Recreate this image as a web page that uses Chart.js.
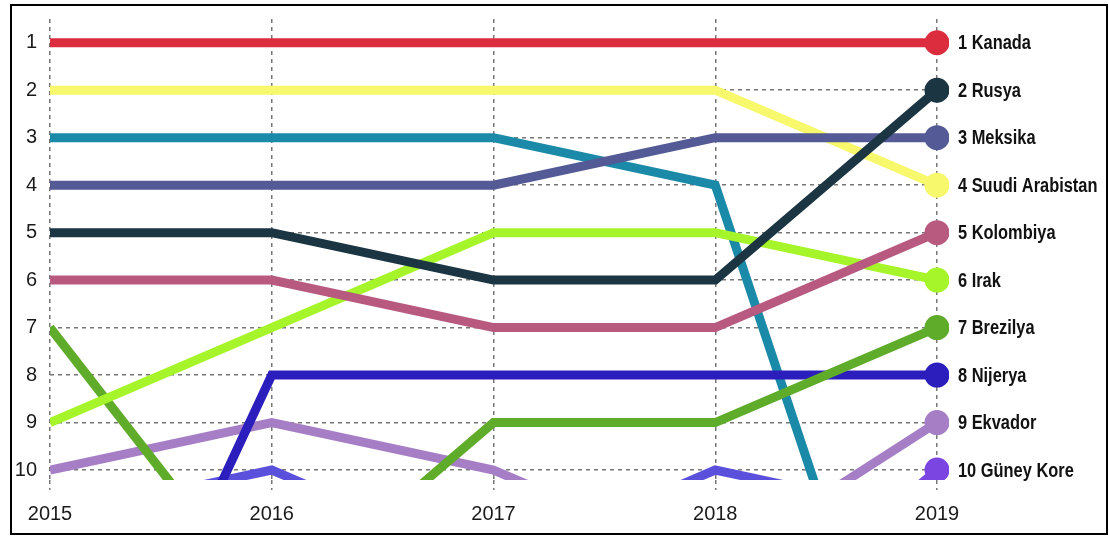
<!DOCTYPE html>
<html>
<head>
<meta charset="utf-8">
<script src="https://cdn.jsdelivr.net/npm/chart.js@4"></script>
<style>
  body { margin: 0; background: #fff; }
  #wrap { width: 1109px; height: 538px; position: relative; }
</style>
</head>
<body>
<div id="wrap"><canvas id="myChart"></canvas></div>
<script>
// years and rank ticks
const years = ['2015', '2016', '2017', '2018', '2019'];
const rankTicks = [1, 2, 3, 4, 5, 6, 7, 8, 9, 10];

// ranks per year (values below 10 run off the bottom of the chart)
const kanada    = [1, 1, 1, 1, 1];
const rusya     = [5, 5, 6, 6, 2];
const meksika   = [4, 4, 4, 3, 3];
const suudi     = [2, 2, 2, 2, 4];
const kolombiya = [6, 6, 7, 7, 5];
const irak      = [9, 7, 5, 5, 6];
const brezilya  = [7, 13, 9, 9, 7];
const nijerya   = [18, 8, 8, 8, 8];
const ekvador   = [10, 9, 10, 12, 9];
const guneyKore = [16, 15, 15, 14, 10];
const tealOther = [3, 3, 3, 4, 18];
const violetOther = [11, 10, 12, 10, 11];

const names = ['1 Kanada', '2 Rusya', '3 Meksika', '4 Suudi Arabistan', '5 Kolombiya',
  '6 Irak', '7 Brezilya', '8 Nijerya', '9 Ekvador', '10 Güney Kore', null, null];
const series = [kanada, rusya, meksika, suudi, kolombiya, irak, brezilya, nijerya, ekvador, guneyKore, tealOther, violetOther];
const colors = ['#DC2D3F', '#1B3642', '#545A96', '#F8F86C', '#B85A80', '#A6F52A',
  '#5FAB2A', '#2B1EBC', '#A57EC6', '#7A45E0', '#1B89A8', '#5A50DC'];

const ctx = document.getElementById('myChart');

const frame = {
  id: 'frame',
  afterDraw(chart) {
    const c = chart.ctx;
    c.save();
    c.strokeStyle = '#000';
    c.lineWidth = 2;
    c.strokeRect(11, 5, 1096, 529);
    c.restore();
  }
};

// country names at the 2019 end, narrowed like the original condensed font
const endLabels = {
  id: 'endLabels',
  afterDatasetsDraw(chart) {
    const c = chart.ctx;
    chart.data.datasets.forEach((ds, i) => {
      if (!ds.label) return;
      const pt = chart.getDatasetMeta(i).data[4];
      c.save();
      c.translate(pt.x + 21, pt.y);
      c.scale(0.82, 1);
      c.font = 'bold 20px "Liberation Sans", sans-serif';
      c.fillStyle = '#111';
      c.textBaseline = 'middle';
      c.textAlign = 'left';
      c.fillText(ds.label, 0, 1);
      c.restore();
    });
  }
};

new Chart(ctx, {
  type: 'line',
  data: {
    labels: years,
    datasets: series.map((d, i) => ({
      label: names[i],
      data: d,
      borderColor: colors[i],
      backgroundColor: colors[i],
      borderWidth: 9,
      borderCapStyle: 'butt',
      borderJoinStyle: 'miter',
      tension: 0,
      pointRadius: names[i] ? [0, 0, 0, 0, 8] : 0,
      pointHoverRadius: 0,
      clip: { left: 0, top: 12, right: 12, bottom: 0 }
    }))
  },
  options: {
    responsive: true,
    maintainAspectRatio: false,
    animation: false,
    plugins: {
      legend: false,
      tooltip: { enabled: false }
    },
    layout: {
      padding: { left: 0, right: 172, top: 19, bottom: 0 }
    },
    scales: {
      x: {
        type: 'category',
        offset: false,
        grid: {
          color: '#777',
          lineWidth: 1.5,
          tickLength: 10,
          tickColor: '#777',
          tickWidth: 1.5,
          tickBorderDash: [4, 4]
        },
        border: { display: false, dash: [4, 4] },
        ticks: {
          color: '#1a1a1a',
          padding: 12,
          maxRotation: 0,
          font: { family: '"Liberation Sans", sans-serif', size: 20 }
        },
        afterFit(s) { s.height = 58; }
      },
      y: {
        type: 'linear',
        reverse: true,
        min: 0.5,
        max: 10.21,
        border: { display: false, dash: [4, 4] },
        grid: {
          color: '#777',
          lineWidth: 1.5,
          drawTicks: false
        },
        afterBuildTicks(s) { s.ticks = rankTicks.map(v => ({ value: v })); },
        ticks: {
          color: '#1a1a1a',
          padding: 13,
          font: { family: '"Liberation Sans", sans-serif', size: 20 }
        },
        afterFit(s) { s.width = 50; s.paddingTop = 0; s.paddingBottom = 0; }
      }
    }
  },
  plugins: [frame, endLabels]
});
</script>
</body>
</html>
